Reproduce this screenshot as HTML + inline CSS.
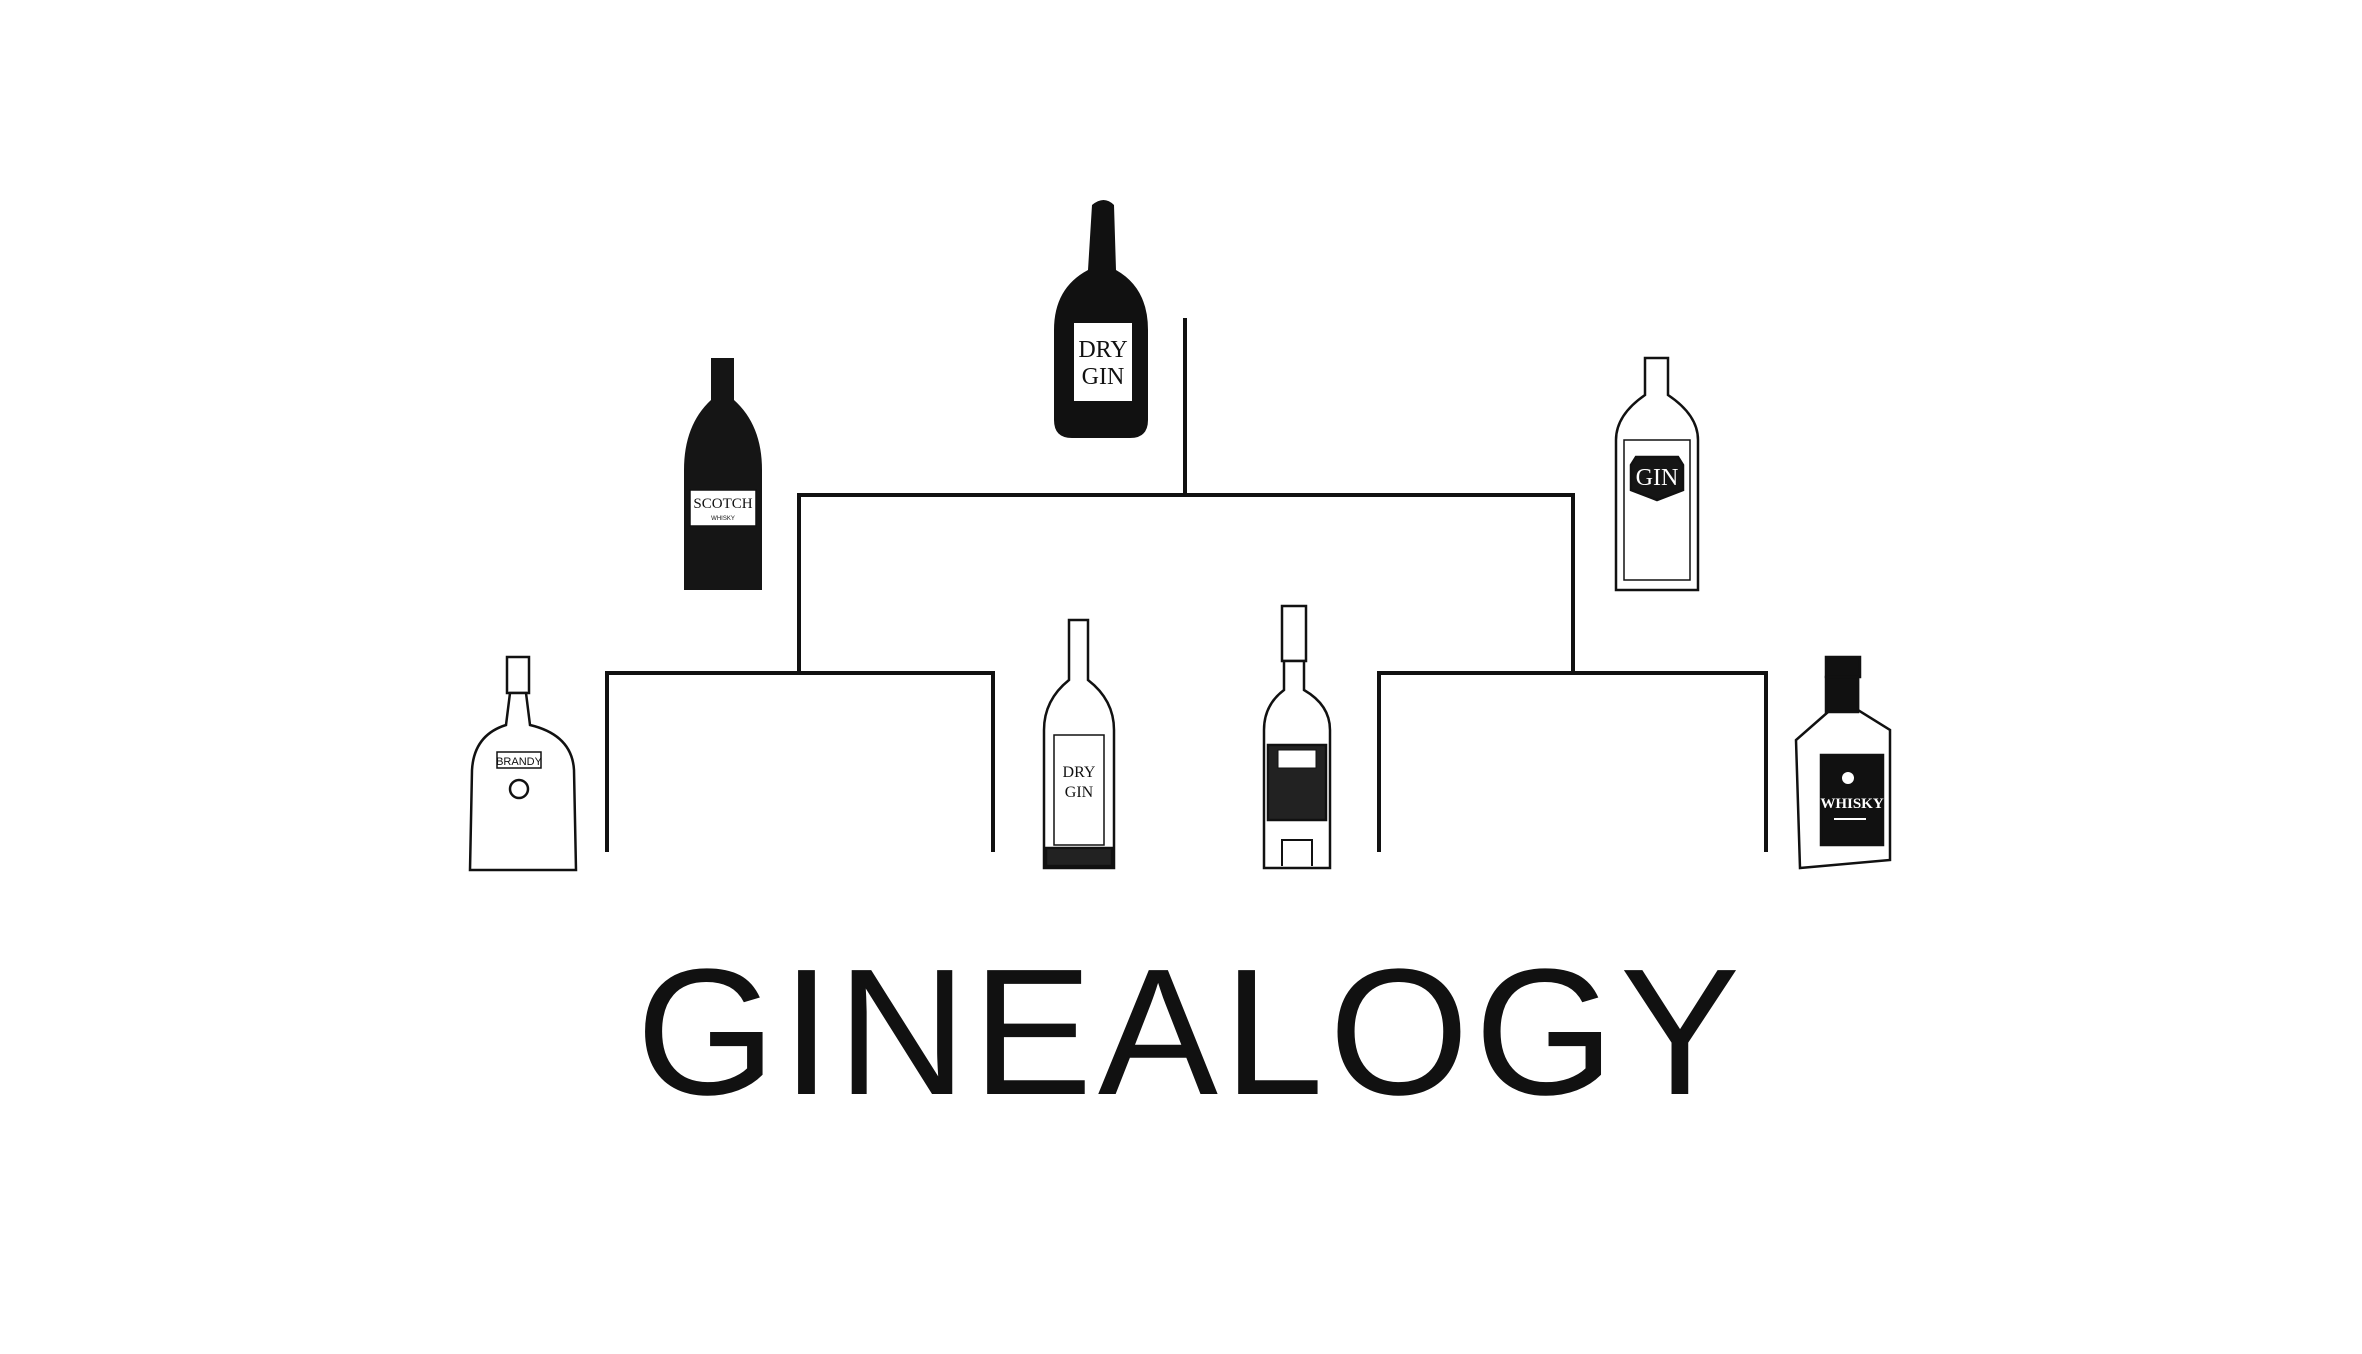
<!DOCTYPE html>
<html><head><meta charset="utf-8"><style>
html,body{margin:0;padding:0;background:#fff;width:2362px;height:1354px;overflow:hidden}
svg{display:block}
</style></head><body>
<svg width="2362" height="1354" viewBox="0 0 2362 1354" xmlns="http://www.w3.org/2000/svg">
<g stroke="#111" stroke-width="4" fill="none" stroke-linecap="square">
<path d="M1185 320 V495 M799 495 H1573 M799 495 V673 M1573 495 V673 M607 673 H993 M607 673 V850 M993 673 V850 M1379 673 H1766 M1379 673 V850 M1766 673 V850"/>
</g>
<g>
<path d="M1092 205 Q1104 195 1114 205 L1116 270 Q1148 288 1148 330 L1148 420 Q1148 438 1130 438 L1072 438 Q1054 438 1054 420 L1054 330 Q1054 288 1088 270 Z" fill="#111"/>
<rect x="1073" y="322" width="60" height="80" fill="#fff" stroke="#111" stroke-width="2"/>
<text x="1103" y="357" font-family="Liberation Serif,serif" font-size="24" text-anchor="middle" fill="#111">DRY</text>
<text x="1103" y="384" font-family="Liberation Serif,serif" font-size="24" text-anchor="middle" fill="#111">GIN</text>
</g>
<g>
<path d="M711 358 H734 V400 Q762 425 762 470 L762 590 L684 590 L684 470 Q684 425 711 400 Z" fill="#151515"/>
<rect x="690" y="490" width="66" height="36" fill="#fff" stroke="#111" stroke-width="1.5"/>
<text x="723" y="508" font-family="Liberation Serif,serif" font-size="15" text-anchor="middle" fill="#111">SCOTCH</text>
<text x="723" y="520" font-family="Liberation Sans,sans-serif" font-size="6" text-anchor="middle" fill="#111">WHISKY</text>
</g>
<g fill="#fff" stroke="#111" stroke-width="2.5">
<path d="M1645 358 H1668 V395 Q1698 415 1698 440 L1698 590 L1616 590 L1616 440 Q1616 415 1645 395 Z"/>
<rect x="1624" y="440" width="66" height="140" stroke-width="1.5"/>
<path d="M1636 457 L1678 457 L1683 465 L1683 490 L1657 500 L1631 490 L1631 465 Z" fill="#151515"/>
<text x="1657" y="485" font-family="Liberation Serif,serif" font-size="24" text-anchor="middle" fill="#fff" stroke="none">GIN</text>
</g>
<g fill="#fff" stroke="#111" stroke-width="2.5">
<rect x="507" y="657" width="22" height="36"/>
<path d="M510 693 L526 693 L530 725 Q572 735 574 770 L576 870 L470 870 L472 770 Q474 735 506 725 Z"/>
<rect x="497" y="752" width="44" height="16" stroke-width="1.5"/>
<text x="519" y="765" font-family="Liberation Sans,sans-serif" font-size="11" text-anchor="middle" fill="#111" stroke="none">BRANDY</text>
<circle cx="519" cy="789" r="9"/>
</g>
<g fill="#fff" stroke="#111" stroke-width="2.5">
<path d="M1069 620 H1088 V680 Q1114 700 1114 730 L1114 868 L1044 868 L1044 730 Q1044 700 1069 680 Z"/>
<rect x="1054" y="735" width="50" height="110" stroke-width="1.5"/>
<text x="1079" y="777" font-family="Liberation Serif,serif" font-size="16" text-anchor="middle" fill="#111" stroke="none">DRY</text>
<text x="1079" y="797" font-family="Liberation Serif,serif" font-size="16" text-anchor="middle" fill="#111" stroke="none">GIN</text>
<rect x="1046" y="848" width="66" height="18" fill="#222"/>
</g>
<g fill="#fff" stroke="#111" stroke-width="2.5">
<rect x="1282" y="606" width="24" height="55" fill="#fff"/>
<path d="M1284 661 H1304 V690 Q1330 705 1330 730 L1330 868 L1264 868 L1264 730 Q1264 705 1284 690 Z"/>
<rect x="1268" y="745" width="58" height="75" fill="#222"/>
<rect x="1278" y="750" width="38" height="18" fill="#fff" stroke-width="1"/>
<path d="M1282 866 L1282 840 L1312 840 L1312 866" stroke-width="2"/>
</g>
<g stroke="#111" stroke-width="2.5">
<rect x="1826" y="657" width="34" height="20" fill="#111"/>
<path d="M1828 677 H1858 V710 L1890 730 L1890 860 L1800 868 L1796 740 L1828 712 Z" fill="#fff"/>
<rect x="1826" y="677" width="32" height="35" fill="#111"/>
<rect x="1821" y="755" width="62" height="90" fill="#111"/>
<circle cx="1848" cy="778" r="6" fill="#fff" stroke="none"/>
<text x="1852" y="808" font-family="Liberation Serif,serif" font-size="15" font-weight="bold" text-anchor="middle" fill="#fff" stroke="none">WHISKY</text>
<rect x="1834" y="818" width="32" height="2" fill="#fff" stroke="none"/>
</g>
<text x="636" y="1094" font-family="Liberation Sans Narrow,Liberation Sans,sans-serif" font-size="180" textLength="1104" lengthAdjust="spacing" fill="#111">GINEALOGY</text>
</svg>
</body></html>
